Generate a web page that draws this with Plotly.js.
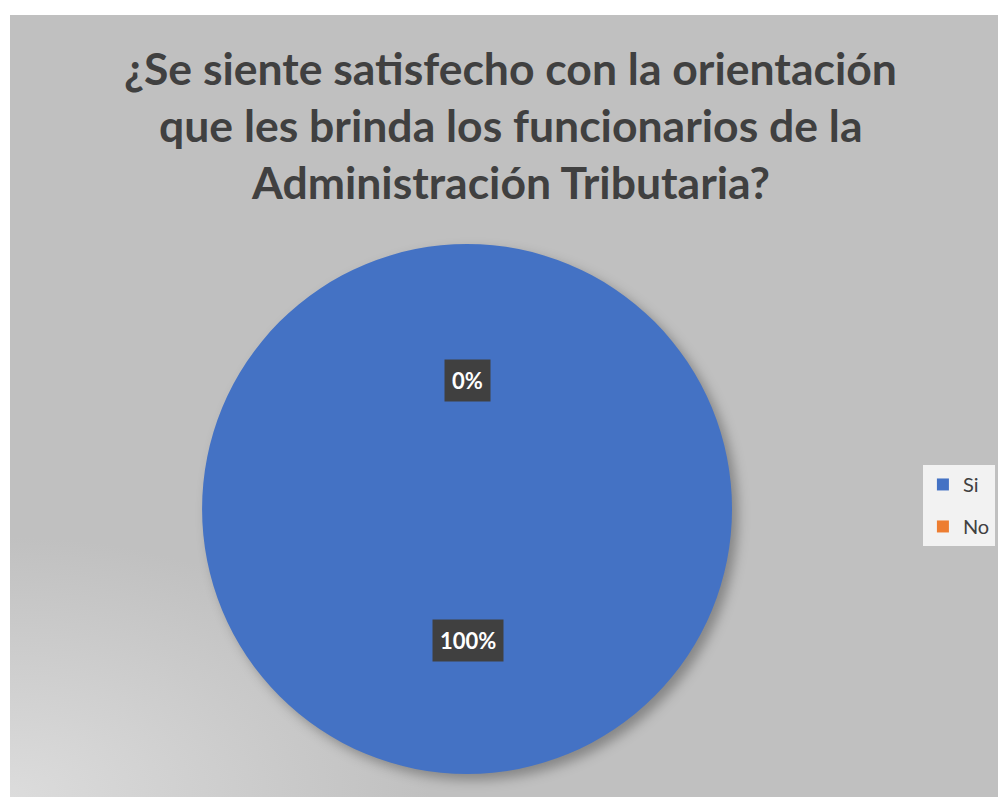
<!DOCTYPE html>
<html>
<head>
<meta charset="utf-8">
<script src="https://cdn.plot.ly/plotly-3.0.1.min.js"></script>
<style>
  html, body { margin: 0; padding: 0; background: #ffffff; width: 998px; height: 797px; overflow: hidden; }
  #chart { position: absolute; left: 10px; top: 15px; width: 988px; height: 782px;
    background: radial-gradient(ellipse 420px 260px at 0% 100%, #dcdcdc 0%, #c0c0c0 100%); }
  #chart .slice path { filter: drop-shadow(6px 6px 6px rgba(0,0,0,0.3)); }
</style>
</head>
<body>
<div id="chart"></div>
<script>
const categories = ["Si", "No"];
const values = [100, 0];
const colors = ["#4472c4", "#ed7d31"];
const titleLines = [
  "¿Se siente satisfecho con la orientación",
  "que les brinda los funcionarios de la",
  "Administración Tributaria?"
];

const total = values.reduce((a, b) => a + b, 0);
const pct = values.map(v => Math.round(v / total * 100) + "%");

const FONT = "Lato, 'Open Sans', sans-serif";
const labelPos = [[0.4636, 0.1995], [0.4626, 0.533]];
const titleY = [0.9335, 0.8595, 0.7866];

const data = [{
  type: "pie",
  labels: categories,
  values: values,
  marker: { colors: colors },
  sort: false,
  direction: "clockwise",
  rotation: 0,
  textinfo: "none",
  hoverinfo: "label+percent",
  showlegend: false,
  domain: { x: [0.1944, 0.7308], y: [0.0294, 0.7072] }
}];

// legend entries, one per category
categories.forEach((c, i) => {
  data.push({
    type: "scatter",
    mode: "markers",
    x: [null], y: [null],
    name: c,
    legendgroup: c,
    marker: { symbol: "square", size: 13, color: colors[i] },
    showlegend: true,
    hoverinfo: "skip"
  });
});

const annotations = pct.map((t, i) => ({
  text: "<b>" + t + "</b>",
  x: labelPos[i][0], y: labelPos[i][1],
  xref: "paper", yref: "paper",
  xanchor: "center", yanchor: "middle",
  showarrow: false,
  font: { family: FONT, size: 22, color: "#ffffff" },
  bgcolor: "#404040",
  borderpad: 7
}));

titleLines.forEach((t, i) => {
  annotations.push({
    text: "<b>" + t + "</b>",
    x: 0.507, y: titleY[i],
    xref: "paper", yref: "paper",
    xanchor: "center", yanchor: "middle",
    showarrow: false,
    font: { family: FONT, size: 44.5, color: "#404040" }
  });
});

const layout = {
  width: 988, height: 782,
  margin: { l: 0, r: 0, t: 0, b: 0 },
  paper_bgcolor: "rgba(0,0,0,0)",
  plot_bgcolor: "rgba(0,0,0,0)",
  xaxis: { visible: false },
  yaxis: { visible: false },
  legend: {
    x: 0.924, xanchor: "left",
    y: 0.4246, yanchor: "top",
    bgcolor: "#f2f2f2",
    font: { family: FONT, size: 20, color: "#404040" },
    itemsizing: "constant",
    tracegroupgap: 13
  },
  annotations: annotations
};

Plotly.newPlot("chart", data, layout, { displayModeBar: false, staticPlot: true });
</script>
</body>
</html>
